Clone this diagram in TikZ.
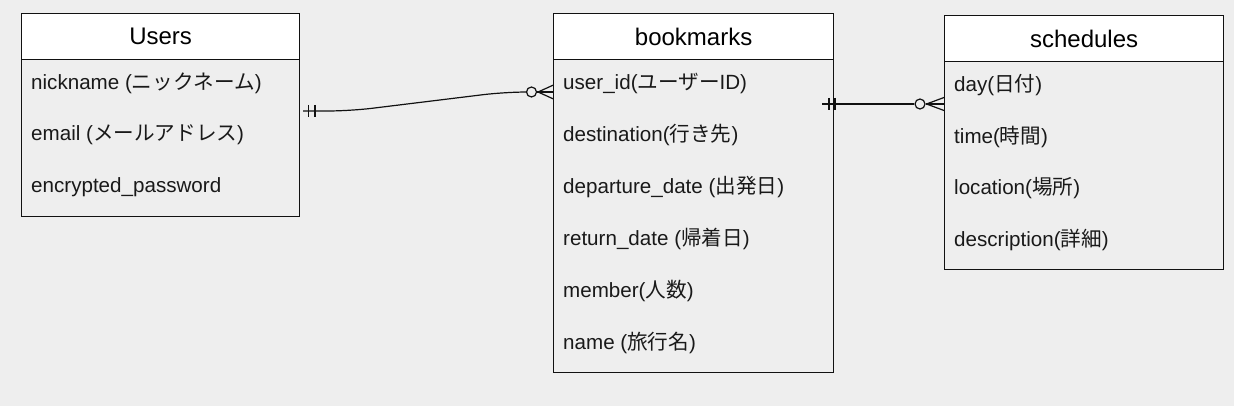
\documentclass[tikz,border=0pt]{standalone}
\usepackage{fontspec}
\setmainfont{Liberation Sans}
\newfontfamily\jpfont{Noto Sans CJK JP}
\newcommand{\J}[1]{{\jpfont #1}}
\definecolor{bgc}{HTML}{EEEEEE}
\definecolor{linec}{HTML}{111111}
\tikzset{
  x=1pt, y=-1pt,
  hdrbox/.style={draw=linec, fill=white, line width=1.2pt, anchor=north west, inner sep=0pt,
    font=\fontsize{24}{28}\selectfont},
  bodybox/.style={draw=linec, fill=bgc, line width=1.2pt, anchor=north west, inner sep=0pt},
  rowtext/.style={anchor=west, inner sep=0pt, font=\fontsize{20.6}{24}\selectfont, text=black!90},
  conn/.style={draw=linec, line width=1.2pt},
  zerocirc/.style={circle, draw=linec, fill=bgc, line width=1.2pt, minimum size=10pt, inner sep=0pt}
}
\begin{document}
\begin{tikzpicture}
\fill[bgc] (0,0) rectangle (1234,406);
\useasboundingbox (0,0) rectangle (1234,406);

% Users
\node[bodybox, minimum width=278pt, minimum height=157pt] (usersb) at (21,59) {};
\node[hdrbox, minimum width=278pt, minimum height=46pt] (usersh) at (21,13) {Users};
\node[rowtext] (u1) at (31,83) {nickname (\J{ニックネーム})};
\node[rowtext] (u2) at (31,135) {email (\J{メールアドレス})};
\node[rowtext] (u3) at (31,187) {encrypted\_password};

% bookmarks
\node[bodybox, minimum width=280pt, minimum height=313pt] (bookb) at (553,59) {};
\node[hdrbox, minimum width=280pt, minimum height=46pt] (bookh) at (553,13) {bookmarks};
\node[rowtext] (b1) at (563,83) {user\_id(\J{ユーザー}ID)};
\node[rowtext] (b2) at (563,135) {destination(\J{行き先})};
\node[rowtext] (b3) at (563,187) {departure\_date (\J{出発日})};
\node[rowtext] (b4) at (563,239) {return\_date (\J{帰着日})};
\node[rowtext] (b5) at (563,291) {member(\J{人数})};
\node[rowtext] (b6) at (563,343) {name (\J{旅行名})};

% schedules
\node[bodybox, minimum width=279pt, minimum height=208pt] (schb) at (944,61) {};
\node[hdrbox, minimum width=279pt, minimum height=46pt] (schh) at (944,15) {schedules};
\node[rowtext] (s1) at (954,85) {day(\J{日付})};
\node[rowtext] (s2) at (954,137) {time(\J{時間})};
\node[rowtext] (s3) at (954,188) {location(\J{場所})};
\node[rowtext] (s4) at (954,240) {description(\J{詳細})};

% connector Users -> bookmarks
\coordinate (c1s) at (303,111);
\coordinate (c1e) at (553.5,92);
\node[zerocirc] (o1) at (531.5,92) {};
\draw[conn, rounded corners=22pt] (c1s) -- (350,111) -- (505,92) -- (o1.west);
\draw[conn] (o1.east) -- (c1e);
\draw[conn] (538,92) -- (553.5,85) (538,92) -- (553.5,99);
\draw[conn] (308.5,105) -- (308.5,117) (315,105) -- (315,117);

% connector bookmarks -> schedules
\coordinate (c2s) at (822,104);
\coordinate (c2e) at (944,104);
\node[zerocirc] (o2) at (920,104) {};
\draw[conn] (c2s) -- (o2.west);
\draw[conn] (o2.east) -- (c2e);
\draw[conn] (926.5,104) -- (944,97.5) (926.5,104) -- (944,110.5);
\draw[conn] (829,98) -- (829,110) (835,98) -- (835,110);
\end{tikzpicture}
\end{document}
